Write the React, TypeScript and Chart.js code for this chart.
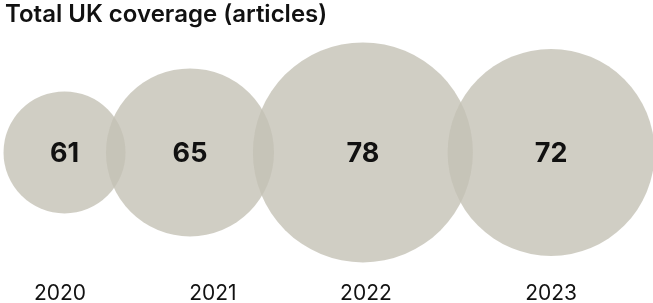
import React, { useEffect, useRef } from "react";
import { Chart, registerables } from "chart.js";

Chart.register(...registerables);

const years = ["2020", "2021", "2022", "2023"];
const articles = [61, 65, 78, 72];
// bubble radius
const bubbleSize = [61, 84, 110, 103.5];
// bubble centres and tick label positions along the x axis (year slots)
const bubbleX = [0.03, 0.85, 1.98, 3.21];
const labelX = [0, 1, 2, 3.21];

const FONT = "Inter, 'Liberation Sans', Arial, sans-serif";

export default function App() {
  const ref = useRef<HTMLCanvasElement | null>(null);

  useEffect(() => {
    document.body.style.margin = "0";
    const canvas = ref.current;
    if (!canvas) return;

    const valueLabels = {
      id: "valueLabels",
      afterDatasetsDraw(chart: any) {
        const ctx = chart.ctx;
        const meta = chart.getDatasetMeta(0);
        ctx.save();
        ctx.font = `700 27px ${FONT}`;
        ctx.fillStyle = "#111111";
        ctx.textAlign = "center";
        ctx.textBaseline = "middle";
        meta.data.forEach((el: any, i: number) => {
          ctx.fillText(String(articles[i]), el.x, el.y + 1);
        });
        ctx.restore();
      },
    };

    const chart = new Chart(canvas, {
      type: "bubble",
      data: {
        datasets: [
          {
            data: articles.map((v, i) => ({ x: bubbleX[i], y: 0, r: bubbleSize[i] })),
            backgroundColor: "rgba(196,194,181,0.8)",
            hoverBackgroundColor: "rgba(196,194,181,0.8)",
            borderWidth: 0,
            clip: false as any,
          },
        ],
      },
      options: {
        animation: false,
        responsive: true,
        maintainAspectRatio: false,
        layout: { autoPadding: false, padding: { left: 5, right: 0, top: 0, bottom: 0 } } as any,
        plugins: {
          legend: { display: false },
          tooltip: { enabled: false },
          title: {
            display: true,
            text: "Total UK coverage (articles)",
            align: "start",
            color: "#111111",
            font: { family: FONT, size: 24, weight: "600" as any },
            padding: { top: 0, bottom: 13 },
          },
        },
        scales: {
          x: {
            type: "linear",
            min: -0.359,
            max: 3.876,
            grid: { display: false },
            border: { display: false },
            afterBuildTicks(scale: any) {
              scale.ticks = labelX.map((v) => ({ value: v }));
            },
            afterFit(scale: any) {
              scale.height = 40;
            },
            ticks: {
              color: "#111111",
              font: { family: FONT, size: 21 },
              padding: 10,
              maxRotation: 0,
              autoSkip: false,
              callback: (_v: any, i: number) => years[i],
            },
          },
          y: {
            display: false,
            min: -1,
            max: 1,
          },
        },
      },
      plugins: [valueLabels],
    });

    return () => chart.destroy();
  }, []);

  return (
    <div style={{ position: "relative", width: 653, height: 303 }}>
      <canvas ref={ref} />
    </div>
  );
}
